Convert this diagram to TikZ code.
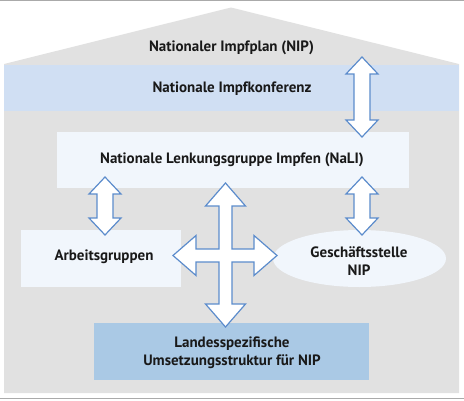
\documentclass[tikz,border=0pt]{standalone}
\usepackage{fontspec}
\usetikzlibrary{shapes.geometric}
\setmainfont{PT Sans}
\definecolor{housegray}{RGB}{225,225,225}
\definecolor{bandblue}{RGB}{208,223,243}
\definecolor{paleblue}{RGB}{241,246,252}
\definecolor{midblue}{RGB}{170,201,229}
\definecolor{arrowblue}{RGB}{92,140,204}
\definecolor{linegray}{RGB}{170,170,170}
\definecolor{txt}{RGB}{25,25,25}
\tikzset{
  lbl/.style={font=\bfseries\fontsize{15}{18}\selectfont, text=txt, align=center, inner sep=0pt},
  blockarrow/.style={draw=arrowblue, fill=white, line width=1.2pt, line join=miter},
}
\newcommand\vdarrow[3]{% center x, top y, bottom y
  \draw[blockarrow] (#1,#2) -- ({#1+16},{#2+17}) -- ({#1+8},{#2+17}) -- ({#1+8},{#3-17}) -- ({#1+16},{#3-17}) -- (#1,#3) -- ({#1-16},{#3-17}) -- ({#1-8},{#3-17}) -- ({#1-8},{#2+17}) -- ({#1-16},{#2+17}) -- cycle;}
\begin{document}
\begin{tikzpicture}[x=1pt,y=-1pt]
\useasboundingbox (0,0) rectangle (464,400);
\fill[white] (0,0) rectangle (464,400);
\draw[linegray, line width=1.4pt] (0,0.7) -- (464,0.7);
\draw[linegray, line width=1.2pt] (0,398.4) -- (464,398.4);
% house
\fill[housegray] (4,64) -- (231,7.5) -- (459,64) -- (459,393) -- (4,393) -- cycle;
\fill[bandblue] (4,65) rectangle (459,111);
% boxes
\node[fill=paleblue, minimum width=352pt, minimum height=56pt, inner sep=0pt] (nali) at (233,160) {};
\node[fill=paleblue, minimum width=160pt, minimum height=57pt, inner sep=0pt] (ag) at (101,258.5) {};
\node[ellipse, fill=paleblue, minimum width=173pt, minimum height=57pt, inner sep=0pt] (gs) at (359.5,258.5) {};
\node[fill=midblue, minimum width=275pt, minimum height=57pt, inner sep=0pt] (lus) at (231.5,351.5) {};
% texts
\node[lbl] (nip) at (231.5,48) {Nationaler Impfplan (NIP)};
\node[lbl] (nik) at (232,88.5) {Nationale Impfkonferenz};
\node[lbl] at (232,159.5) {Nationale Lenkungsgruppe Impfen (NaLI)};
\node[lbl] at (104,256.5) {Arbeitsgruppen};
\node[lbl] at (359,261) {Geschäftsstelle\\NIP};
\node[lbl] at (232,352.5) {Landesspezifische\\Umsetzungsstruktur für NIP};
% arrows
\vdarrow{362}{57}{137}
\vdarrow{105}{177}{235}
\vdarrow{362}{177}{235}
\draw[blockarrow] (225.5,183) -- (245.5,206) -- (232,206) -- (232,249) -- (254,249) -- (254,235.5) -- (277,255.5) -- (254,275.5) -- (254,262) -- (232,262) -- (232,304) -- (245.5,304) -- (225.5,327) -- (205.5,304) -- (219,304) -- (219,262) -- (196,262) -- (196,275.5) -- (173,255.5) -- (196,235.5) -- (196,249) -- (219,249) -- (219,206) -- (205.5,206) -- cycle;
\end{tikzpicture}
\end{document}
